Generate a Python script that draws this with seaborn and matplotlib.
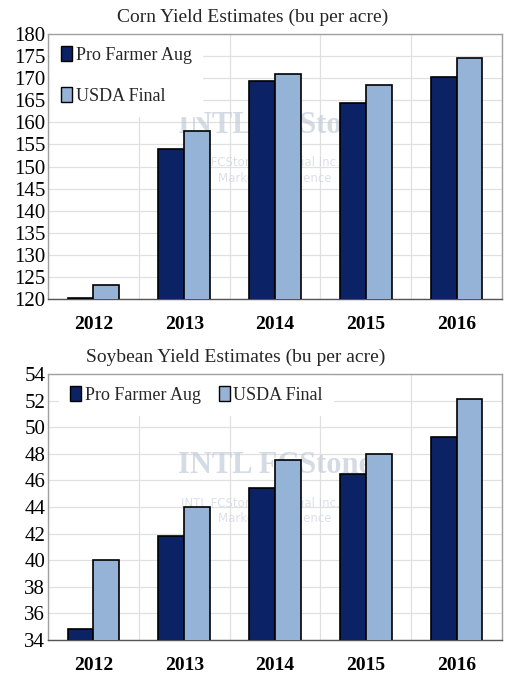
import matplotlib
matplotlib.use("Agg")
import matplotlib.pyplot as plt
import seaborn as sns
import pandas as pd
import numpy as np

years = ["2012", "2013", "2014", "2015", "2016"]
series = ["Pro Farmer Aug", "USDA Final"]
corn_pro = [120.3, 154.0, 169.4, 164.3, 170.2]
corn_usda = [123.1, 158.1, 171.0, 168.4, 174.6]
soy_pro = [34.8, 41.8, 45.4, 46.5, 49.3]
soy_usda = [40.0, 44.0, 47.5, 48.0, 52.1]
colors = ["#0b2264", "#95b3d7"]

sns.set_theme(style="white")
SERIF = ['Liberation Serif', 'DejaVu Serif']
plt.rcParams['font.family'] = SERIF

fig = plt.figure(figsize=(5.07, 6.8), dpi=100)
ax1 = fig.add_axes([48/507, 1-299/680, 454/507, 265/680])
ax2 = fig.add_axes([48/507, 1-640/680, 454/507, 266/680])

def draw(ax, pro, usda, ylim, step, legend_ncol, legend_anchor):
    df = pd.DataFrame({
        "Year": years * 2,
        "Series": [series[0]] * 5 + [series[1]] * 5,
        "Value": pro + usda,
    })
    sns.barplot(data=df, x="Year", y="Value", hue="Series", palette=colors,
                width=0.57, edgecolor="black", linewidth=1.2, ax=ax, zorder=3,
                saturation=1)
    ax.set_ylim(*ylim)
    ax.set_xlim(-0.5, 4.5)
    ticks = np.arange(ylim[0], ylim[1] + 0.01, step)
    ax.set_yticks(ticks)
    ax.set_yticklabels([f"{int(v)}" for v in ticks], fontsize=15, family=SERIF, color='black')
    ax.set_xticks(range(5))
    ax.set_xticklabels(years, fontsize=14, fontweight="bold", family=SERIF, color='black')
    ax.tick_params(axis='x', length=0, pad=12)
    ax.tick_params(axis='y', length=0, pad=2)
    ax.set_xticks(np.arange(-0.5, 5, 1), minor=True)
    ax.tick_params(axis='x', which='minor', length=5, color='#555555', direction='out')
    ax.grid(True, axis='y', color='#e0e0e0', linewidth=0.9, zorder=0)
    ax.grid(True, axis='x', which='minor', color='#e0e0e0', linewidth=0.9, zorder=0)
    ax.set_axisbelow(True)
    ax.set_xlabel("")
    ax.set_ylabel("")
    for s in ax.spines.values():
        s.set_color('#a0a0a0')
        s.set_linewidth(1.0)
    ax.spines['bottom'].set_color('#555555')
    # watermark
    ax.text(0.5, 0.655, "INTL FCStone", transform=ax.transAxes, ha='center', va='center',
            fontsize=22, fontweight='bold', color='#c3cddb', alpha=0.7, zorder=1,
            family=SERIF)
    ax.text(0.5, 0.515, "INTL FCStone Financial Inc. FCM", transform=ax.transAxes,
            ha='center', va='center', fontsize=8.5, color='#cdd4de', alpha=0.7, zorder=1,
            family=['DejaVu Sans'])
    ax.text(0.5, 0.455, "Market Intelligence", transform=ax.transAxes,
            ha='center', va='center', fontsize=8.5, color='#cdd4de', alpha=0.7, zorder=1,
            family=['DejaVu Sans'])
    leg = ax.legend(loc="upper left", bbox_to_anchor=legend_anchor, ncol=legend_ncol,
                    prop={'family': SERIF, 'size': 13},
                    frameon=True, fancybox=False, edgecolor='white', facecolor='white',
                    framealpha=1, handlelength=0.6, handleheight=0.9, handletextpad=0.2,
                    columnspacing=1.0, labelspacing=1.3, borderaxespad=0.0,
                    borderpad=0.6)
    for h in leg.legend_handles:
        h.set_edgecolor('black')
        h.set_linewidth(1.0)
    leg.set_zorder(2)

draw(ax1, corn_pro, corn_usda, (120, 180), 5, 1, (0.005, 0.995))
draw(ax2, soy_pro, soy_usda, (34, 54), 2, 2, (0.025, 0.995))

fig.text(253/507, 1-17/680, "Corn Yield Estimates (bu per acre)", ha='center', va='center',
         fontsize=14, family=SERIF)
fig.text(236/507, 1-357/680, "Soybean Yield Estimates (bu per acre)", ha='center', va='center',
         fontsize=14, family=SERIF)

fig.savefig("out.png", dpi=100)
